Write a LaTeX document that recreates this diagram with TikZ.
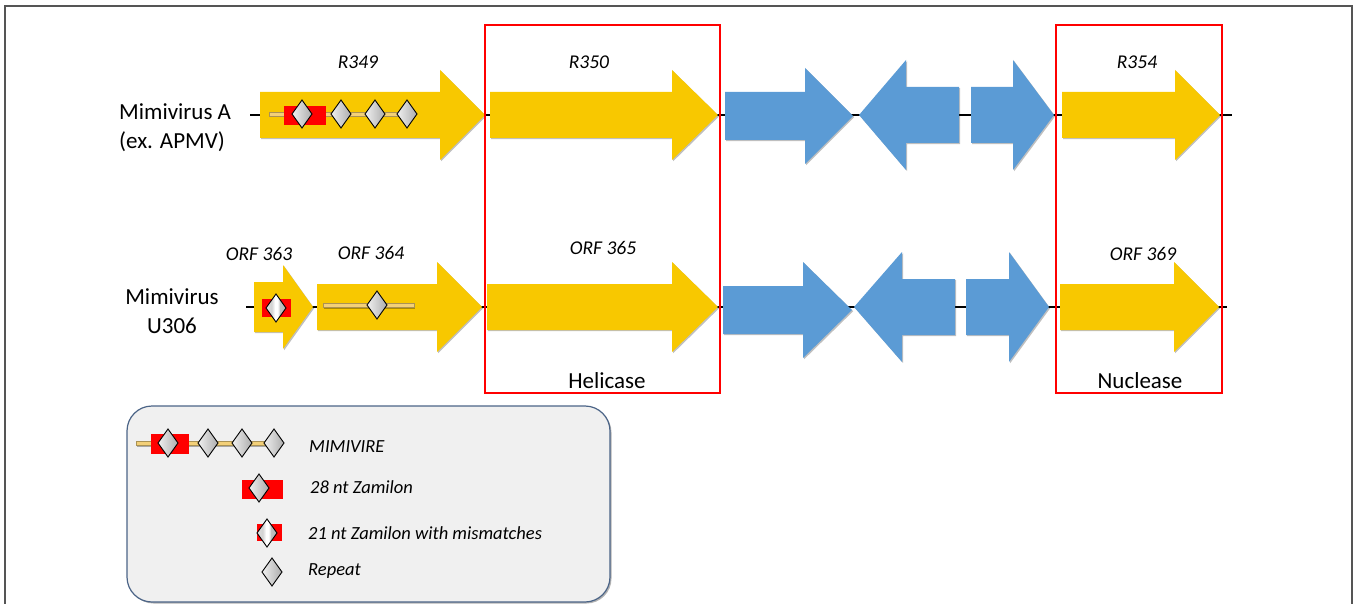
\documentclass[tikz,border=0pt]{standalone}
\usepackage{fontspec}
\setmainfont{Carlito}
\usetikzlibrary{shadows}
\definecolor{geneyellow}{RGB}{248,200,0}
\definecolor{geneblue}{RGB}{91,155,213}
\definecolor{stripcol}{RGB}{243,208,120}
\definecolor{legfill}{RGB}{240,240,240}
\definecolor{legdraw}{RGB}{75,100,135}
\definecolor{framecol}{RGB}{85,85,85}
\tikzset{
  gshadow/.style={drop shadow={shadow xshift=1.2pt, shadow yshift=-1.2pt, opacity=0.25, fill=black}},
  ygene/.style={fill=geneyellow, draw=none, gshadow},
  bgene/.style={fill=geneblue, draw=none, gshadow},
  axisline/.style={draw=black, line width=1.2pt},
  redbox/.style={draw=red, line width=2pt},
  strip/.style={fill=stripcol, draw=stripcol!70!black, line width=0.3pt, drop shadow={shadow xshift=1pt, shadow yshift=-1.5pt, opacity=0.3, fill=black}},
  zam/.style={fill=red, draw=none},
  rep/.style={draw=black, line width=0.9pt, left color=gray!12, right color=gray!65},
  repout/.style={draw=black, line width=0.9pt},
  vname/.style={font=\fontsize{23}{29}\selectfont, inner sep=0pt},
  glabel/.style={font=\fontsize{19.5}{23}\selectfont\itshape, inner sep=0pt},
  leglabel/.style={font=\fontsize{18.5}{22}\selectfont\itshape, inner sep=0pt, anchor=west},
}
% right-pointing gene: x0, x1 (head start), x2 (tip), yc, body half-height, head half-height, style
\newcommand{\rgene}[7]{\path[#7] (#1,{#4-#5}) -- (#2,{#4-#5}) -- (#2,{#4-#6}) -- (#3,#4) -- (#2,{#4+#6}) -- (#2,{#4+#5}) -- (#1,{#4+#5}) -- cycle;}
% left-pointing gene: tip, head end, body end, yc, bh, hh, style
\newcommand{\lgene}[7]{\path[#7] (#3,{#4-#5}) -- (#2,{#4-#5}) -- (#2,{#4-#6}) -- (#1,#4) -- (#2,{#4+#6}) -- (#2,{#4+#5}) -- (#3,{#4+#5}) -- cycle;}
% diamond at x,y
\newcommand{\rdiam}[3]{\path[#3] (#1,{#2-14}) -- ({#1+10},#2) -- (#1,{#2+14}) -- ({#1-10},#2) -- cycle;}
% diamond with mismatch stripe
\newcommand{\mdiam}[2]{%
  \begin{scope}
  \clip (#1,{#2-14}) -- ({#1+10},#2) -- (#1,{#2+14}) -- ({#1-10},#2) -- cycle;
  \shade[left color=gray!25, right color=gray!60] ({#1-10},{#2-14}) rectangle ({#1+10},{#2+14});
  \shade[left color=gray!30, right color=white] ({#1-4},{#2-14}) rectangle ({#1-1},{#2+14});
  \fill[white] ({#1-1},{#2-14}) rectangle ({#1+1.5},{#2+14});
  \shade[left color=white, right color=gray!45] ({#1+1.5},{#2-14}) rectangle ({#1+4},{#2+14});
  \end{scope}
  \rdiam{#1}{#2}{repout}}
\begin{document}
\begin{tikzpicture}[x=1pt,y=-1pt]
\useasboundingbox (0,0) rectangle (1357,604);
\begin{scope}
\clip (0,0) rectangle (1357,604);
\draw[framecol, line width=1.5pt] (5,640) -- (5,6) -- (1352,6) -- (1352,640);
\end{scope}

% axes
\coordinate (a1s) at (250,115); \coordinate (a1e) at (1232,115);
\coordinate (a2s) at (246,307); \coordinate (a2e) at (1227,307);
\draw[axisline] (a1s) -- (a1e);
\draw[axisline] (a2s) -- (a2e);

% row 1
\rgene{260}{440}{485}{115}{23}{45}{ygene}
\rgene{490}{672}{718}{115}{23}{45}{ygene}
\rgene{725}{805}{853}{116}{24}{48}{bgene}
\lgene{859}{906}{959}{115}{28}{55}{bgene}
\rgene{971}{1013}{1054}{115}{28}{55}{bgene}
\rgene{1062}{1175}{1220}{115}{23}{45}{ygene}
% mimivire row 1
\path[strip] (269,112) rectangle (407,116);
\path[zam] (284,106) rectangle (326,125);
\rdiam{302}{114}{rep}
\rdiam{341}{114}{rep}
\rdiam{375}{114}{rep}
\rdiam{407}{114}{rep}

% row 2
\rgene{254}{283}{313}{307}{25}{42}{ygene}
\rgene{317}{437}{482}{307}{23}{45}{ygene}
\rgene{487}{672}{718}{307}{23}{45}{ygene}
\rgene{723}{803}{852}{310}{24}{48}{bgene}
\lgene{854}{902}{955}{307}{28}{55}{bgene}
\rgene{966}{1009}{1049}{307}{28}{55}{bgene}
\rgene{1060}{1174}{1219}{307}{23}{45}{ygene}
\path[zam] (262,299) rectangle (291,317);
\mdiam{276}{308}
\path[strip] (323,303) rectangle (414,307);
\rdiam{377}{305}{rep}

% red boxes
\draw[redbox] (485,25) rectangle (720,393);
\draw[redbox] (1056,25) rectangle (1222,393);

% labels
\node[vname, align=left, anchor=west] (nA) at (119,128) {Mimivirus A\\(ex. APMV)};
\node[vname, align=center] (nU) at (172,311) {Mimivirus\\U306};
\node[glabel] (l349) at (358,62) {R349};
\node[glabel] (l350) at (589,62) {R350};
\node[glabel] (l354) at (1137,62) {R354};
\node[glabel] (l363) at (259,254) {ORF 363};
\node[glabel] (l364) at (371,253) {ORF 364};
\node[glabel] (l365) at (603,248) {ORF 365};
\node[glabel] (l369) at (1143,254) {ORF 369};
\node[vname] (hel) at (607,381) {Helicase};
\node[vname] (nuc) at (1140,381) {Nuclease};

% legend
\path[fill=legfill, draw=legdraw, line width=1.2pt, rounded corners=25pt, drop shadow={shadow xshift=1.5pt, shadow yshift=-1.5pt, opacity=0.3, fill=black}] (127,406) rectangle (610,602);
\path[strip] (136,441) rectangle (274,445);
\path[zam] (151,434) rectangle (189,454);
\rdiam{168}{443}{rep}
\rdiam{208}{443}{rep}
\rdiam{242}{443}{rep}
\rdiam{274}{443}{rep}
\node[leglabel] (t1) at (309,447) {MIMIVIRE};
\path[zam] (242,480) rectangle (283,499);
\rdiam{259}{488}{rep}
\node[leglabel] (t2) at (310,487) {28 nt Zamilon};
\path[zam] (257,524) rectangle (282,541);
\mdiam{267}{533}
\node[leglabel] (t3) at (308,533) {21 nt Zamilon with mismatches};
\rdiam{272}{572}{rep}
\node[leglabel] (t4) at (308,571) {Repeat};
\end{tikzpicture}
\end{document}
